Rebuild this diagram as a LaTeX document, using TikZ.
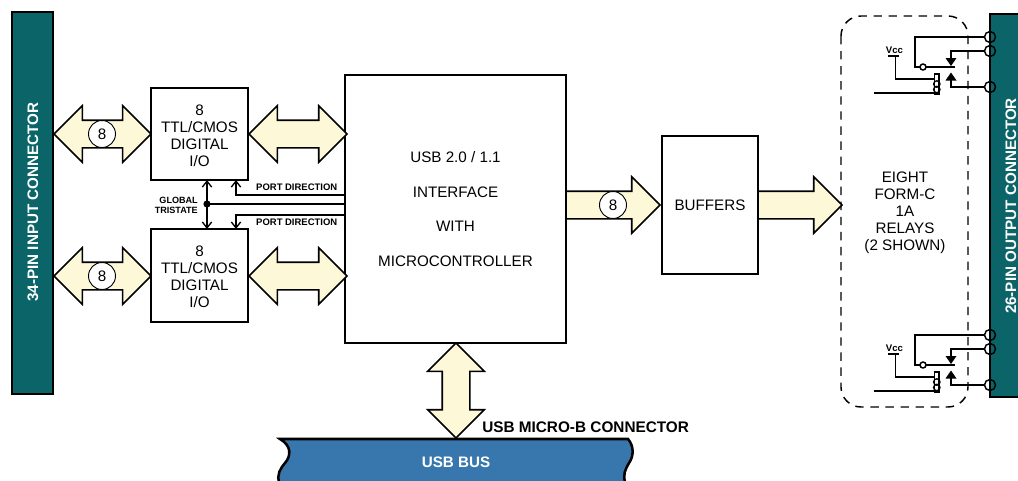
\documentclass[tikz,border=0pt]{standalone}
\usepackage{fontspec}
\setmainfont{Liberation Sans}
\usetikzlibrary{shapes.arrows,arrows.meta,calc}
\definecolor{teal1}{HTML}{0B6568}
\definecolor{cream}{HTML}{FDF8D8}
\definecolor{busblue}{HTML}{3877AD}
\def\px{0.75pt}
\tikzset{
  x=0.75pt,y=-0.75pt,
  blockbox/.style={draw,line width=1.3pt,fill=white,inner sep=0pt,outer sep=0pt,align=center,font=\fontsize{11.4}{12.75}\selectfont},
  bigdbl/.style={double arrow,draw,line width=1.2pt,fill=cream,inner xsep=0pt,inner ysep=9.75pt,outer sep=0pt,minimum width=55*\px,double arrow head extend=14.5*\px,double arrow tip angle=90,double arrow head indent=0pt},
  bigone/.style={single arrow,draw,line width=1.2pt,fill=cream,inner xsep=0pt,inner ysep=9.75pt,outer sep=0pt,minimum width=55*\px,single arrow head extend=14.5*\px,single arrow tip angle=90,anchor=tail},
  countmark/.style={circle,draw,line width=0.7pt,fill=white,inner sep=0pt,minimum size=27*\px,font=\fontsize{11.4}{12}\selectfont},
  wire/.style={line width=1.1pt},
  sig/.style={line width=1.3pt},
  tiny/.style={font=\bfseries\fontsize{7.1}{8}\selectfont,inner sep=0pt},
  terminal/.style={circle,draw,line width=1.1pt,inner sep=0pt,minimum size=11*\px,outer sep=0pt},
  pin/.style={circle,draw,line width=1.1pt,fill=white,inner sep=0pt,minimum size=6*\px,outer sep=0pt},
  portarrow/.style={sig,-{Straight Barb[length=4.5pt,width=7pt,line width=1pt]}},
  bothports/.style={line width=1.6pt,{Straight Barb[length=4.5pt,width=7pt,line width=1pt]}-{Straight Barb[length=4.5pt,width=7pt,line width=1pt]}},
  bar/.style={draw,line width=1.2pt,fill=teal1,inner sep=0pt,outer sep=0pt},
  bartext/.style={rotate=90,text=white,font=\bfseries\fontsize{11.4}{12}\selectfont,inner sep=0pt}
}
\newcommand{\relaygroup}[2]{%
  \begin{scope}[shift={(0,#2)}]
    \node[terminal] (#1t1) at (990,37) {};
    \node[terminal] (#1t2) at (990,51) {};
    \node[terminal] (#1t3) at (990,87) {};
    \node[pin] (#1c) at (923,67) {};
    \coordinate (#1j) at (915,67);
    \coordinate (#1arm) at (955,67);
    \coordinate (#1up) at (951,59);
    \coordinate (#1dn) at (951,80);
    \draw[wire] (#1t1.west) -| (#1j) -- (#1c.west);
    \draw[wire,line width=1.3pt] (#1c.east) -- (#1arm);
    \draw[wire] (#1t2.west) -| (#1up);
    \draw[wire] (#1t3.west) -| (#1dn);
    \fill (945.5,58) -- (956.5,58) -- (951,66) -- cycle;
    \fill (945.5,80.5) -- (956.5,80.5) -- (951,72.5) -- cycle;
    \node[font=\bfseries\fontsize{7.2}{8}\selectfont,inner sep=0pt] (#1vcc) at (894.5,50.5) {Vcc};
    \coordinate (#1vb) at (895.5,56);
    \draw[wire] (888,56) -- (899,56);
    \coordinate (#1coilin) at (934,79);
    \coordinate (#1coilout) at (934,93);
    \coordinate (#1gate) at (874,93);
    \draw[wire] (#1vb) |- (#1coilin);
    \draw[wire,line width=1.3pt] (#1gate) -- (#1coilout);
    \draw[line width=0.8pt,fill=white] (934.5,74) rectangle (939,94);
    \draw[line width=1pt] (936.8,84) circle[radius=3.2];
    \draw[line width=1pt] (936.8,89.5) circle[radius=3.2];
  \end{scope}}
\begin{document}
\begin{tikzpicture}
\useasboundingbox (0,0) rectangle (1018,480);
\clip (0,0) rectangle (1018,480);
\fill[white] (0,0) rectangle (1018,480);

% connector bars
\node[bar,minimum width=41*\px,minimum height=382*\px] (inbar) at (32.5,203) {};
\node[bartext] (intext) at (33,202) {34-PIN INPUT CONNECTOR};
\draw[bar] (990,14) rectangle (1030,397);
\node[bartext] (outtext) at (1011,206) {26-PIN OUTPUT CONNECTOR};

% blocks
\node[blockbox,minimum width=97*\px,minimum height=92*\px] (io1) at (199.5,134) {\rule{0pt}{10pt}8\\TTL/CMOS\\DIGITAL\\I/O};
\node[blockbox,minimum width=97*\px,minimum height=93*\px] (io2) at (199.5,275.5) {\rule{0pt}{10pt}8\\TTL/CMOS\\DIGITAL\\I/O};
\node[blockbox,minimum width=221*\px,minimum height=268*\px,
      font=\fontsize{11.4}{26}\selectfont] (mcu) at (455.5,209) {USB 2.0 / 1.1\\INTERFACE\\WITH\\MICROCONTROLLER};
\node[blockbox,minimum width=96*\px,minimum height=138*\px] (buf) at (710,205) {BUFFERS};

% dashed relay boundary
\draw[line width=1.1pt,dash pattern=on 6.3pt off 5pt,rounded corners=20*\px] (841,16) rectangle (968,407);

% block arrows
\node[bigdbl,minimum height=97*\px] (a1) at (102.5,134) {};
\node[bigdbl,minimum height=97*\px] (a2) at (102.5,276) {};
\node[bigdbl,minimum height=98*\px] (a3) at (298,134) {};
\node[bigdbl,minimum height=98*\px] (a4) at (298,276) {};
\node[bigone,minimum height=94*\px] (a5) at (mcu.east |- buf.west) {};
\node[bigone,minimum height=84*\px] (a6) at (buf.east) {};
\node[bigdbl,minimum height=95*\px,rotate=90] (a7) at (456,390.5) {};
\node[countmark] (n1) at (102,134) {8};
\node[countmark] (n2) at (102,276) {8};
\node[countmark] (n3) at (613,205) {8};

% control lines
\coordinate (pd1) at (236,195);
\coordinate (pd2) at (236,215);
\draw[portarrow] (mcu.west |- pd1) -- (pd1) -- (pd1 |- io1.south);
\draw[portarrow] (mcu.west |- pd2) -- (pd2) -- (pd2 |- io2.north);
\coordinate (tri) at (207,204);
\draw[bothports] (tri |- io1.south) -- (tri |- io2.north);
\draw[sig] (mcu.west |- tri) -- (tri);
\fill (tri) circle[radius=3.6];
\node[tiny,anchor=east] (pl1) at (337.5,187.5) {PORT DIRECTION};
\node[tiny,anchor=east] (pl2) at (337.5,222) {PORT DIRECTION};
\node[tiny,anchor=east,align=right,font=\bfseries\fontsize{6.8}{7.6}\selectfont] (gt) at (198,205) {GLOBAL\\TRISTATE};

% relays
\relaygroup{ra}{0}
\relaygroup{rb}{298}
\node[align=center,inner sep=0pt,font=\fontsize{11.4}{12.75}\selectfont] (rl) at (905,213) {EIGHT\\FORM-C\\1A\\RELAYS\\(2 SHOWN)};

% USB bus
\fill[busblue] (280,439) .. controls (292,446) and (291,456) .. (285,463) .. controls (280,469) and (277,474) .. (279,482) -- (625,482) .. controls (623,474) and (625,470) .. (629,463) .. controls (634,456) and (634,446) .. (628,439) -- cycle;
\draw[line width=1.9pt] (279,482) .. controls (277,474) and (280,469) .. (285,463) .. controls (291,456) and (292,446) .. (280,439) -- (628,439) .. controls (634,446) and (634,456) .. (629,463) .. controls (625,470) and (623,474) .. (625,482);
\node[text=white,font=\bfseries\fontsize{11.4}{12}\selectfont,inner sep=0pt] (bus) at (456,462) {USB BUS};
\node[font=\bfseries\fontsize{11.5}{12}\selectfont,inner sep=0pt,anchor=west] (mb) at (482,427) {USB MICRO-B CONNECTOR};
\end{tikzpicture}
\end{document}
